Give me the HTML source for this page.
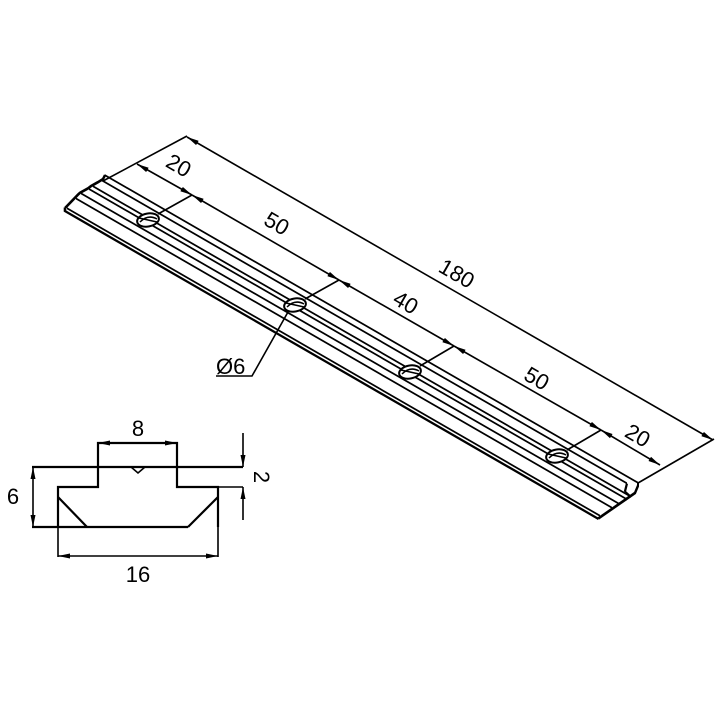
<!DOCTYPE html>
<html><head><meta charset="utf-8"><style>html,body{margin:0;padding:0;background:#fff}svg{display:block}text{font-family:"Liberation Sans",sans-serif;font-size:22px;fill:#000}</style></head><body>
<svg width="719" height="719" viewBox="0 0 719 719" xmlns="http://www.w3.org/2000/svg">
<defs>
<marker id="a" viewBox="0 0 12 6" refX="12" refY="3" markerWidth="12" markerHeight="6" markerUnits="userSpaceOnUse" orient="auto-start-reverse"><path d="M0,0.5 L12,3 L0,5.5 Z" fill="#000"/></marker>
</defs>
<g fill="none" stroke="#000" stroke-width="2">
<g transform="matrix(1,0.577,0,1,148,220)">
<polyline points="-83,36 -83,39 450,39" stroke-width="2.6"/>
<polyline points="-83,36 -70,15 -68,12 -60,3 -57,-1 -50,-9 -45,-15 -43,-20"/>
<line x1="-81" y1="35" x2="452" y2="35"/>
<line x1="-72" y1="20" x2="464" y2="20"/>
<line x1="-67" y1="12" x2="471" y2="12"/>
<line x1="-59" y1="3" x2="479" y2="3"/>
<line x1="-55" y1="-2" x2="483" y2="-2"/>
<line x1="-47" y1="-13" x2="479" y2="-13"/>
<line x1="-43" y1="-20" x2="490" y2="-20"/>
<polyline points="450,39 487,-8 490,-17 490,-20"/>
<polyline points="479,-13 477,-4 483,-2"/>
</g>
<g fill="#fff">
<ellipse cx="148" cy="220" rx="11" ry="6.5" transform="rotate(-10 148 220)"/>
<ellipse cx="295" cy="305" rx="11" ry="6.5" transform="rotate(-10 295 305)"/>
<ellipse cx="410" cy="372" rx="11" ry="6.5" transform="rotate(-10 410 372)"/>
<ellipse cx="557" cy="456" rx="11" ry="6.5" transform="rotate(-10 557 456)"/>
</g>
<g stroke-width="1.5">
<path d="M140,222 Q148,214 157,219 M139,218 L157,222"/>
<path d="M287,307 Q295,299 304,304 M286,303 L304,307"/>
<path d="M402,374 Q410,366 419,371 M401,370 L419,374"/>
<path d="M549,458 Q557,450 566,455 M548,454 L566,458"/>
</g>
<g stroke-width="1.6">
<line x1="103" y1="181" x2="187" y2="136"/>
<line x1="158" y1="214" x2="192" y2="195"/>
<line x1="305" y1="299" x2="339" y2="280"/>
<line x1="420" y1="366" x2="454" y2="346"/>
<line x1="567" y1="450" x2="601" y2="430"/>
<line x1="638" y1="483" x2="714" y2="439"/>
<line x1="187" y1="137" x2="713" y2="440" marker-start="url(#a)" marker-end="url(#a)"/>
<line x1="137" y1="164" x2="192" y2="195" marker-start="url(#a)" marker-end="url(#a)"/>
<line x1="192" y1="195" x2="339" y2="280" marker-start="url(#a)" marker-end="url(#a)"/>
<line x1="339" y1="280" x2="454" y2="346" marker-start="url(#a)" marker-end="url(#a)"/>
<line x1="454" y1="346" x2="601" y2="430" marker-start="url(#a)" marker-end="url(#a)"/>
<line x1="601" y1="430" x2="660" y2="465" marker-start="url(#a)" marker-end="url(#a)"/>
<polyline points="288,312 252,376 216,376"/>
</g>
<g stroke-width="2.2">
<polyline points="58,527 58,487 98,487 98,443 177,443 177,487 218,487 218,527"/>
<line x1="32" y1="467" x2="243" y2="467"/>
<polyline points="131,467 138,473 145,467" stroke-width="1.6"/>
<line x1="58" y1="497" x2="87" y2="527"/>
<line x1="218" y1="497" x2="188" y2="527"/>
<line x1="32" y1="527" x2="188" y2="527"/>
</g>
<g stroke-width="1.6">
<line x1="58" y1="527" x2="58" y2="557"/>
<line x1="218" y1="527" x2="218" y2="557"/>
<line x1="98" y1="443" x2="177" y2="443" marker-start="url(#a)" marker-end="url(#a)"/>
<line x1="58" y1="556" x2="218" y2="556" marker-start="url(#a)" marker-end="url(#a)"/>
<line x1="33" y1="467" x2="33" y2="527" marker-start="url(#a)" marker-end="url(#a)"/>
<line x1="243" y1="433" x2="243" y2="467" marker-end="url(#a)"/>
<line x1="243" y1="520" x2="243" y2="487" marker-end="url(#a)"/>
<line x1="218" y1="487" x2="243" y2="487"/>
</g>
</g>
<g text-anchor="middle">
<text transform="translate(175,172) rotate(30)">20</text>
<text transform="translate(273,230) rotate(30)">50</text>
<text transform="translate(453,280) rotate(30)">180</text>
<text transform="translate(402,309) rotate(30)">40</text>
<text transform="translate(533,385) rotate(30)">50</text>
<text transform="translate(634,442) rotate(30)">20</text>
<text x="138" y="436">8</text>
<text x="138" y="582">16</text>
<text x="13" y="504">6</text>
<text transform="translate(254,477) rotate(90)">2</text>
</g>
<text x="216" y="374">Ø6</text>
</svg>
</body></html>
